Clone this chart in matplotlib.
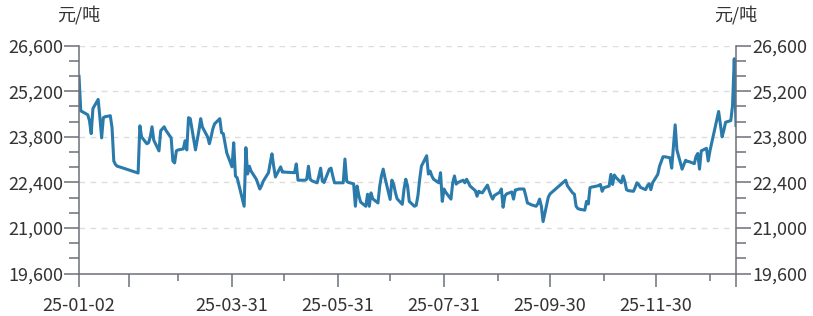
import pandas as pd
import matplotlib
matplotlib.use("Agg")
import matplotlib.pyplot as plt
import matplotlib.dates as mdates
from matplotlib.ticker import FixedLocator, AutoMinorLocator, FuncFormatter

plt.rcParams['font.family'] = ['Noto Sans CJK SC', 'DejaVu Sans']

# price series (元/吨)
dates = [
    "2025-01-02", "2025-01-03", "2025-01-06", "2025-01-07", "2025-01-08", "2025-01-09", "2025-01-10",
    "2025-01-13", "2025-01-14", "2025-01-15", "2025-01-16", "2025-01-17", "2025-01-20", "2025-01-21",
    "2025-01-22", "2025-01-23", "2025-01-24", "2025-01-27", "2025-02-05", "2025-02-06", "2025-02-07",
    "2025-02-10", "2025-02-11", "2025-02-12", "2025-02-13", "2025-02-14", "2025-02-17", "2025-02-18",
    "2025-02-19", "2025-02-20", "2025-02-21", "2025-02-24", "2025-02-25", "2025-02-26", "2025-02-27",
    "2025-02-28", "2025-03-03", "2025-03-04", "2025-03-05", "2025-03-06", "2025-03-07", "2025-03-10",
    "2025-03-11", "2025-03-12", "2025-03-13", "2025-03-14", "2025-03-17", "2025-03-18", "2025-03-19",
    "2025-03-20", "2025-03-21", "2025-03-24", "2025-03-25", "2025-03-26", "2025-03-27", "2025-03-28",
    "2025-03-31", "2025-04-01", "2025-04-02", "2025-04-03", "2025-04-07", "2025-04-08", "2025-04-09",
    "2025-04-10", "2025-04-11", "2025-04-14", "2025-04-15", "2025-04-16", "2025-04-17", "2025-04-18",
    "2025-04-21", "2025-04-22", "2025-04-23", "2025-04-24", "2025-04-25", "2025-04-28", "2025-04-29",
    "2025-04-30", "2025-05-06", "2025-05-07", "2025-05-08", "2025-05-09", "2025-05-12", "2025-05-13",
    "2025-05-14", "2025-05-15", "2025-05-16", "2025-05-19", "2025-05-20", "2025-05-21", "2025-05-22",
    "2025-05-23", "2025-05-26", "2025-05-27", "2025-05-28", "2025-05-29", "2025-06-03", "2025-06-04",
    "2025-06-05", "2025-06-06", "2025-06-09", "2025-06-10", "2025-06-11", "2025-06-12", "2025-06-13",
    "2025-06-16", "2025-06-17", "2025-06-18", "2025-06-19", "2025-06-20", "2025-06-23", "2025-06-24",
    "2025-06-25", "2025-06-26", "2025-06-27", "2025-06-30", "2025-07-01", "2025-07-02", "2025-07-03",
    "2025-07-04", "2025-07-07", "2025-07-08", "2025-07-09", "2025-07-10", "2025-07-11", "2025-07-14",
    "2025-07-15", "2025-07-16", "2025-07-17", "2025-07-18", "2025-07-21", "2025-07-22", "2025-07-23",
    "2025-07-24", "2025-07-25", "2025-07-28", "2025-07-29", "2025-07-30", "2025-07-31", "2025-08-01",
    "2025-08-04", "2025-08-05", "2025-08-06", "2025-08-07", "2025-08-08", "2025-08-11", "2025-08-12",
    "2025-08-13", "2025-08-14", "2025-08-15", "2025-08-18", "2025-08-19", "2025-08-20", "2025-08-21",
    "2025-08-22", "2025-08-25", "2025-08-26", "2025-08-27", "2025-08-28", "2025-08-29", "2025-09-01",
    "2025-09-02", "2025-09-03", "2025-09-04", "2025-09-05", "2025-09-08", "2025-09-09", "2025-09-10",
    "2025-09-11", "2025-09-12", "2025-09-15", "2025-09-16", "2025-09-17", "2025-09-18", "2025-09-19",
    "2025-09-22", "2025-09-23", "2025-09-24", "2025-09-25", "2025-09-26", "2025-09-29", "2025-09-30",
    "2025-10-09", "2025-10-10", "2025-10-13", "2025-10-14", "2025-10-15", "2025-10-16", "2025-10-17",
    "2025-10-20", "2025-10-21", "2025-10-22", "2025-10-23", "2025-10-24", "2025-10-27", "2025-10-28",
    "2025-10-29", "2025-10-30", "2025-10-31", "2025-11-03", "2025-11-04", "2025-11-05", "2025-11-06",
    "2025-11-07", "2025-11-10", "2025-11-11", "2025-11-12", "2025-11-13", "2025-11-14", "2025-11-17",
    "2025-11-18", "2025-11-19", "2025-11-20", "2025-11-21", "2025-11-24", "2025-11-25", "2025-11-26",
    "2025-11-27", "2025-11-28", "2025-12-01", "2025-12-02", "2025-12-03", "2025-12-04", "2025-12-05",
    "2025-12-08", "2025-12-09", "2025-12-10", "2025-12-11", "2025-12-12", "2025-12-15", "2025-12-16",
    "2025-12-17", "2025-12-18", "2025-12-19", "2025-12-22", "2025-12-23", "2025-12-24", "2025-12-25",
    "2025-12-26", "2025-12-29", "2025-12-30", "2025-12-31", "2026-01-05", "2026-01-06", "2026-01-07",
    "2026-01-08", "2026-01-09", "2026-01-12", "2026-01-13", "2026-01-14", "2026-01-15",
]
prices = [
    25660, 24600, 24510, 24480, 24300, 23900, 24670,
    24950, 24400, 23770, 24390, 24420, 24450, 24080,
    23060, 22950, 22900, 22850, 22690, 24140, 23800,
    23590, 23620, 23800, 24110, 23700, 23370, 23990,
    24050, 24110, 24000, 23770, 23060, 23000, 23370,
    23400, 23430, 23680, 23400, 24390, 24360, 23400,
    23700, 24000, 24360, 24100, 23800, 23590, 23800,
    24050, 24200, 24360, 23930, 23900, 23600, 23310,
    22880, 23620, 22600, 22540, 21670, 23470, 22660,
    22900, 22750, 22500, 22350, 22200, 22300, 22440,
    22700, 23000, 23280, 22900, 22570, 22880, 22720,
    22720, 22700, 22970, 22470, 22470, 22470, 22500,
    22900, 22500, 22450, 22390, 22600, 22840, 22440,
    22400, 22810, 22840, 22600, 22390, 22390, 23120,
    22440, 22400, 22360, 21670, 22290, 22000, 21800,
    21670, 22040, 21670, 22080, 21900, 21770, 22290,
    22600, 22810, 22550, 21880, 22470, 22350, 22100,
    21900, 21730, 22200, 22500, 22300, 21820, 21670,
    21700, 22000, 22500, 22900, 23220, 22660, 22750,
    22600, 22500, 22390, 22700, 21820, 22200, 22100,
    21890, 22390, 22600, 22350, 22400, 22470, 22390,
    22500, 22400, 22290, 22150, 21980, 22130, 22100,
    22080, 22320, 22150, 22000, 21890, 22000, 22100,
    22200, 21640, 21980, 22050, 22110, 21890, 22170,
    22180, 22200, 22200, 22000, 21770, 21750, 21720,
    21670, 21750, 21890, 21670, 21200, 21950, 22050,
    22470, 22300, 22080, 22040, 21670, 21600, 21580,
    21550, 21820, 21740, 22240, 22260, 22290, 22310,
    22340, 22130, 22240, 22290, 22650, 22340, 22630,
    22550, 22390, 22600, 22440, 22180, 22150, 22130,
    22250, 22390, 22340, 22250, 22180, 22300, 22360,
    22180, 22390, 22650, 22900, 23050, 23190, 23190,
    23160, 22840, 23500, 24170, 23400, 22810, 22950,
    23080, 23050, 23040, 22980, 23200, 23290, 22810,
    23370, 23450, 23060, 23370, 24580, 24200, 23800,
    24000, 24250, 24300, 24760, 26200, 24150,
]

y_ticks = [19600, 21000, 22400, 23800, 25200, 26600]
x_major = ["2025-01-02", "2025-01-31", "2025-03-31", "2025-05-31", "2025-07-31",
           "2025-09-30", "2025-11-30", "2026-01-15"]
x_labels = ["25-01-02", "", "25-03-31", "25-05-31", "25-07-31", "25-09-30", "25-11-30", ""]
x_minor = ["2025-02-28", "2025-04-30", "2025-06-30", "2025-08-31", "2025-10-31", "2025-12-31"]

axis_color = "#6e7079"
text_color = "#333333"

fig = plt.figure(figsize=(8.13, 3.16), dpi=100)
ax = fig.add_axes([0.0972, 0.1339, 0.9053 - 0.0972, 0.8554 - 0.1339])

x = pd.to_datetime(dates)
ax.plot(x, prices, color="#2a7bab", linewidth=2.2, solid_joinstyle="round")

ax.set_xlim(pd.Timestamp("2025-01-02"), pd.Timestamp("2026-01-15"))
ax.set_ylim(y_ticks[0], y_ticks[-1])

ax.yaxis.set_major_locator(FixedLocator(y_ticks))
ax.yaxis.set_minor_locator(AutoMinorLocator(3))
ax.yaxis.set_major_formatter(FuncFormatter(lambda v, p: f"{int(v):,}"))

ax.xaxis.set_major_locator(FixedLocator(mdates.date2num(pd.to_datetime(x_major))))
ax.xaxis.set_minor_locator(FixedLocator(mdates.date2num(pd.to_datetime(x_minor))))
ax.set_xticklabels(x_labels)

ax.grid(axis="y", which="major", color="#dcdcdc", linestyle=(0, (4, 4)), linewidth=1)
ax.set_axisbelow(True)

for side in ["left", "right", "bottom"]:
    ax.spines[side].set_color(axis_color)
    ax.spines[side].set_linewidth(1.1)
ax.spines["top"].set_visible(False)

ax.tick_params(axis="y", which="major", length=11, width=1.1, color=axis_color,
               labelsize=13, labelcolor=text_color, pad=0.5, left=True, right=True,
               labelleft=True, labelright=True)
ax.tick_params(axis="y", which="minor", length=7.5, width=1.1, color=axis_color,
               left=True, right=True)
ax.tick_params(axis="x", which="major", length=9.5, width=1.1, color=axis_color,
               labelsize=13, labelcolor=text_color, pad=7)
ax.tick_params(axis="x", which="minor", length=5, width=1.1, color=axis_color)

fig.text(0.0972, 0.952, "元/吨", ha="center", va="center", fontsize=13, color=text_color)
fig.text(0.9053, 0.952, "元/吨", ha="center", va="center", fontsize=13, color=text_color)

fig.savefig("out.png", dpi=100)
